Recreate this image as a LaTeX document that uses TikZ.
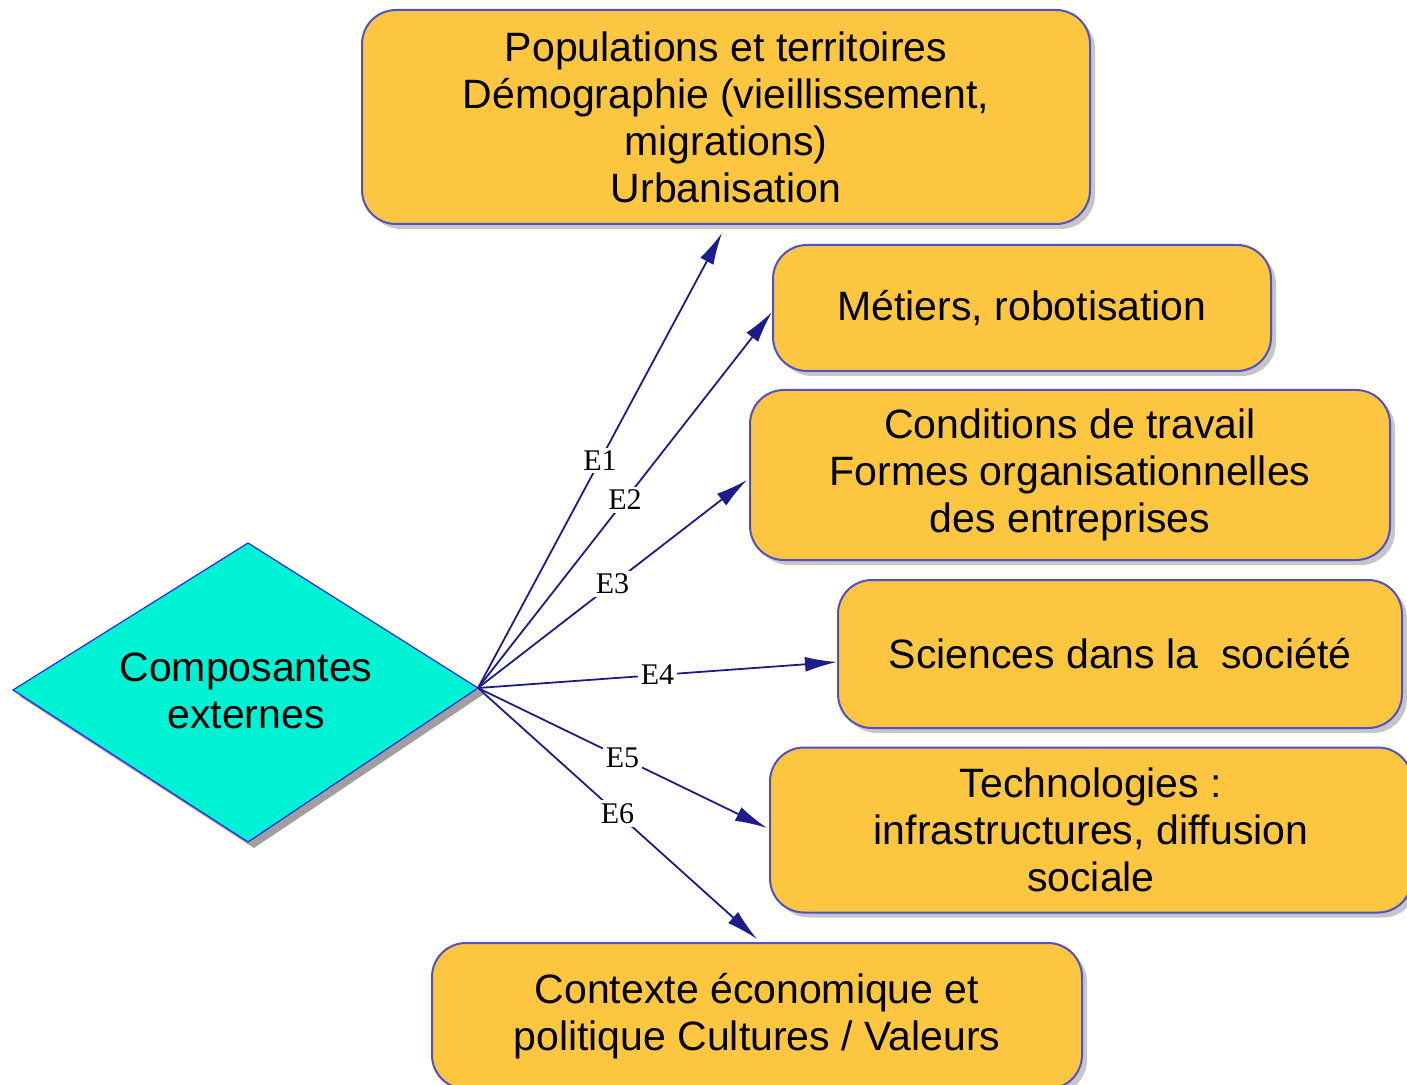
\documentclass[tikz,border=0pt]{standalone}
\usepackage{fontspec}
\setmainfont{Liberation Sans}
\newfontfamily\lblfont{Liberation Serif}
\usetikzlibrary{arrows.meta,shadows}
\definecolor{boxfill}{RGB}{252,198,64}
\definecolor{boxline}{RGB}{80,80,200}
\definecolor{diafill}{RGB}{0,242,212}
\definecolor{dialine}{RGB}{40,40,230}
\definecolor{arrcol}{RGB}{28,28,140}
\tikzset{
  boxnode/.style={draw=boxline, line width=1pt, fill=boxfill, rounded corners=17pt,
    align=center, inner sep=0pt, text=black,
    font=\fontsize{20.5}{23.5}\selectfont,
    drop shadow={shadow xshift=2.5pt, shadow yshift=-2.5pt, fill=gray, opacity=0.45}},
  diashape/.style={draw=dialine, line width=0.6pt, fill=diafill},
  diashadow/.style={fill=gray!75},
  diatext/.style={align=center, inner sep=0pt, font=\fontsize{20.5}{23.5}\selectfont},
  conn/.style={draw=arrcol, line width=0.9pt, -{Latex[length=16pt,width=7.5pt]}},
  elabel/.style={fill=white, inner sep=1.5pt, font=\lblfont\fontsize{15}{17}\selectfont, text=black}
}
\begin{document}
\begin{tikzpicture}[x=0.5pt,y=-0.5pt]
\useasboundingbox (0,0) rectangle (1407,1085);
% diamond
\fill[diashadow] (19,696) -- (254,549) -- (484,694) -- (254,848) -- cycle;
\draw[diashape] (13,690) -- (248,543) -- (478,688) -- (248,842) -- cycle;
\node[diatext] (dtext) at (246,691) {Composantes\\externes};
\coordinate (dia) at (478,688);
% boxes
\node[boxnode, minimum width=364pt, minimum height=107pt] (b1) at (726,117)
  {Populations et territoires\\D\'emographie (vieillissement,\\migrations)\\Urbanisation};
\node[boxnode, minimum width=249pt, minimum height=63pt] (b2) at (1022,308) {M\'etiers, robotisation};
\node[boxnode, minimum width=320pt, minimum height=85pt] (b3) at (1070,475)
  {Conditions de travail\\Formes organisationnelles\\des entreprises};
\node[boxnode, minimum width=282pt, minimum height=74pt] (b4) at (1120,654) {Sciences dans la\ \ soci\'et\'e};
\node[boxnode, minimum width=321pt, minimum height=82.5pt] (b5) at (1091,830)
  {Technologies :\\infrastructures, diffusion\\sociale};
\node[boxnode, minimum width=325pt, minimum height=73pt] (b6) at (757,1016)
  {Contexte \'economique et\\politique Cultures / Valeurs};
% connectors
\draw[conn] (dia) -- node[elabel]{E1} ([xshift=-2pt,yshift=-4pt]b1.south);
\draw[conn] (dia) -- node[elabel]{E2} ([yshift=-2pt]b2.west);
\draw[conn] (dia) -- node[elabel]{E3} ([xshift=-1pt,yshift=-2.5pt]b3.west);
\draw[conn] (dia) -- node[elabel]{E4} ([yshift=-4pt]b4.west);
\draw[conn] (dia) -- node[elabel]{E5} ([xshift=-1pt,yshift=1pt]b5.west);
\draw[conn] (dia) -- node[elabel]{E6} ([yshift=1.5pt]b6.north);
\end{tikzpicture}
\end{document}
